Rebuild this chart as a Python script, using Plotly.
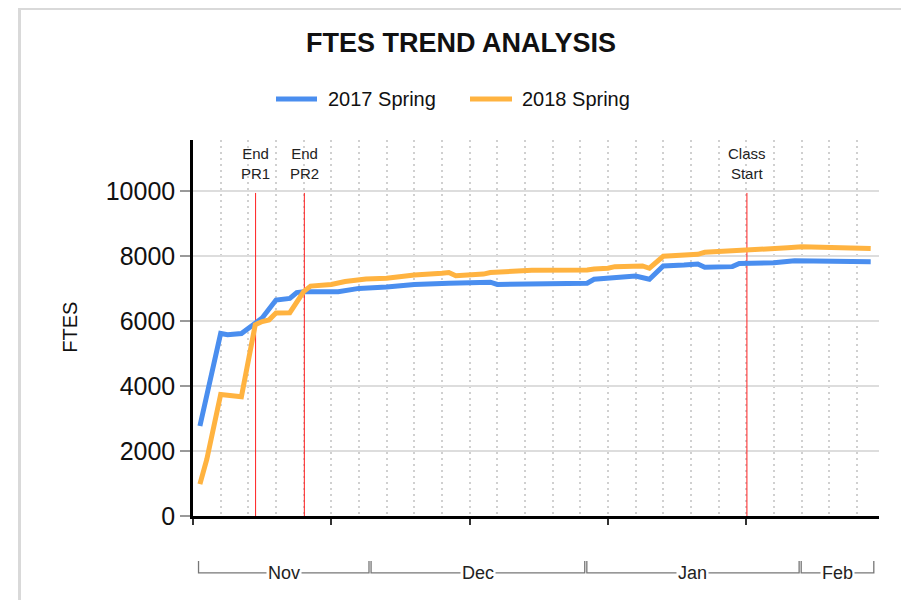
import plotly.graph_objects as go

# ---- data (x = day index along the term timeline) ----
blue_name = "2017 Spring"
blue_days = [1, 4, 5, 7, 9, 10, 12, 14, 15, 16, 21, 24, 28, 32, 37, 43, 44, 49, 57, 58,
             60, 61, 64, 66, 68, 71, 73, 74, 78, 79, 82, 84, 87, 95, 98]
blue_vals = [2770, 5620, 5580, 5620, 5940, 6100, 6650, 6700, 6880, 6910, 6910, 7010, 7050,
             7130, 7170, 7200, 7130, 7140, 7170, 7290, 7320, 7370, 7390, 7290, 7700, 7730,
             7760, 7660, 7680, 7780, 7780, 7800, 7860, 7860, 7830]

orange_name = "2018 Spring"
orange_days = [1, 2, 4, 6, 7, 9, 10, 11, 12, 14, 16, 17, 20, 22, 25, 28, 31, 32, 36, 37,
               38, 40, 42, 43, 46, 49, 57, 58, 60, 61, 65, 66, 68, 70, 73, 74, 78, 80, 84,
               86, 88, 92, 94, 98]
orange_vals = [980, 1750, 3740, 3710, 3670, 5890, 5990, 6040, 6250, 6260, 6910, 7080, 7130,
               7220, 7300, 7320, 7400, 7420, 7475, 7500, 7400, 7420, 7450, 7500, 7540, 7570,
               7580, 7610, 7630, 7680, 7700, 7630, 8000, 8020, 8060, 8120, 8160, 8170, 8210,
               8260, 8290, 8270, 8290, 8240]

event_labels = ["End<br>PR1", "End<br>PR2", "Class<br>Start"]
event_days = [9.05, 16.1, 80.1]

month_names = ["Nov", "Dec", "Jan", "Feb"]
month_edges = [0.65, 25.6, 56.8, 87.8, 98.6]

title_text = "FTES TREND ANALYSIS"
y_title = "FTES"

BLUE = "#4A8EEF"
ORANGE = "#FFB340"
FONT = "Liberation Sans, Arial, sans-serif"

# page body has an 8px margin; figure sized so the page layout matches
W, H = 901, 592
L, R, T, B = 185, 30, 132, 83.5
PW = W - L - R
PH = H - T - B


def px_x(px):  # page x -> paper x
    return (px - 8 - L) / PW


def px_y(py):  # page y -> paper y
    return (H - B - (py - 8)) / PH


fig = go.Figure()
fig.add_trace(go.Scatter(x=blue_days, y=blue_vals, mode="lines", name=blue_name,
                         line=dict(color=BLUE, width=5), showlegend=False))
fig.add_trace(go.Scatter(x=orange_days, y=orange_vals, mode="lines", name=orange_name,
                         line=dict(color=ORANGE, width=5), showlegend=False))

shapes = []
annotations = []

# outer frame
shapes.append(dict(type="rect", xref="paper", yref="paper", x0=px_x(19.5), x1=px_x(905),
                   y0=px_y(640), y1=px_y(8.3), line=dict(color="#d9d9d9", width=3),
                   fillcolor="rgba(0,0,0,0)", layer="below"))

# legend (drawn manually to match sample length/spacing)
legend_items = [(blue_name, BLUE, 276, 317, 326), (orange_name, ORANGE, 470, 512, 520)]
for name, col, lx0, lx1, tx in legend_items:
    shapes.append(dict(type="line", xref="paper", yref="paper", x0=px_x(lx0), x1=px_x(lx1),
                       y0=px_y(99), y1=px_y(99), line=dict(color=col, width=5)))
    annotations.append(dict(xref="paper", yref="paper", x=px_x(tx), y=px_y(99), text=name,
                            showarrow=False, xanchor="left", yanchor="middle",
                            font=dict(size=20, color="#111111", family=FONT)))

# event lines
for lab, d in zip(event_labels, event_days):
    shapes.append(dict(type="line", xref="x", yref="y", x0=d, x1=d, y0=0, y1=9950,
                       line=dict(color="#ff2020", width=1), layer="between"))
    annotations.append(dict(xref="x", yref="paper", x=d, y=px_y(164), text=lab,
                            showarrow=False, xanchor="center", yanchor="middle",
                            font=dict(size=15, color="#222222", family=FONT)))

# month brackets
y_line = px_y(573.5)
y_top = px_y(561.5)
for i, m in enumerate(month_names):
    s = month_edges[i] + 0.15
    e = month_edges[i + 1] - 0.15
    shapes.append(dict(type="path", xref="x", yref="paper",
                       path=f"M {s},{y_top} L {s},{y_line} L {e},{y_line} L {e},{y_top}",
                       line=dict(color="#777777", width=1.3)))
    annotations.append(dict(xref="x", yref="paper", x=(month_edges[i] + month_edges[i + 1]) / 2,
                            y=y_line, text=m, showarrow=False, xanchor="center",
                            yanchor="middle", bgcolor="white", borderpad=1,
                            font=dict(size=18, color="#222222", family=FONT)))

# y-axis title
annotations.append(dict(xref="paper", yref="paper", x=px_x(70), y=px_y(328), text=y_title,
                        textangle=-90, showarrow=False, xanchor="center", yanchor="middle",
                        font=dict(size=20, color="#111111", family=FONT)))

fig.update_layout(
    width=W, height=H,
    margin=dict(l=L, r=R, t=T, b=B, pad=0),
    paper_bgcolor="white", plot_bgcolor="white",
    font=dict(family=FONT, color="#111111"),
    title=dict(text=f"<b>{title_text}</b>", x=(461 - 8) / W, xanchor="center",
               y=1 - (43 - 8) / H, yanchor="middle", yref="container",
               font=dict(size=27, color="#111111")),
    showlegend=False,
    shapes=shapes, annotations=annotations,
    xaxis=dict(range=[0, 99.2], showline=True, linecolor="black", linewidth=2.5,
               ticks="outside", tickcolor="#333333", ticklen=6, tickwidth=1.5,
               tick0=0, dtick=20, showticklabels=False, zeroline=False,
               showgrid=True, gridcolor="#d0d0d0", gridwidth=2, griddash="2px,4px",
               minor=dict(dtick=4, tick0=0, showgrid=True, gridcolor="#d0d0d0",
                          gridwidth=2, griddash="2px,4px", ticks="")),
    yaxis=dict(range=[0, 11580], showline=True, linecolor="black", linewidth=2.5,
               ticks="outside", tickcolor="#999999", ticklen=10, tickwidth=1.5,
               dtick=2000, tick0=0, zeroline=False, showgrid=True, tickformat="d",
               gridcolor="#dddddd", gridwidth=2,
               tickfont=dict(size=25, color="#111111")),
)

fig.write_html("out.html")
